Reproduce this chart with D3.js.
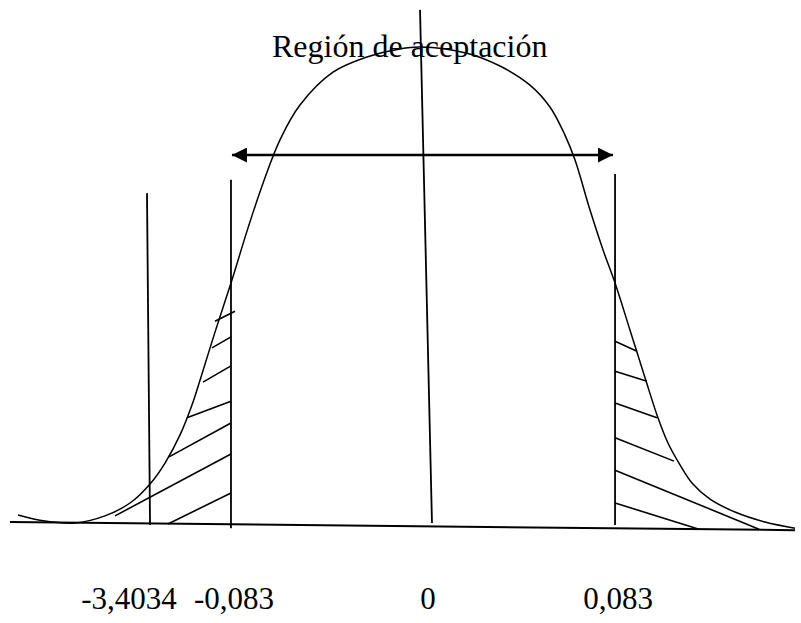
<!DOCTYPE html>
<html><head><meta charset="utf-8">
<script src="https://cdn.jsdelivr.net/npm/d3@7/dist/d3.min.js"></script>
<style>html,body{margin:0;padding:0;background:#fff;overflow:hidden}</style>
</head><body>
<svg id="c" width="801" height="623"></svg>
<script>
// ---- data (z units on x, relative height on y) ----
const titleText = "Región de aceptación";
const tickLabels = ["-3,4034", "-0,083", "0", "0,083"];
const tickZ = [-3.03, -1.96, 0.02, 1.96];

const curveZ = [-4.163,-3.888,-3.582,-3.276,-3.020,-2.816,-2.663,-2.510,-2.388,-2.306,-2.153,-1.990,-1.816,-1.663,-1.490,-1.286,-0.949,-0.602,-0.265,-0.061,0.418,0.755,1.061,1.265,1.418,1.520,1.673,1.806,1.929,2.082,2.235,2.367,2.469,2.592,2.714,2.898,3.153,3.459,3.765];
const curveH = [0.017,0.004,0.000,0.015,0.042,0.082,0.126,0.185,0.248,0.300,0.401,0.504,0.620,0.714,0.805,0.878,0.947,0.979,0.996,1.000,0.987,0.960,0.920,0.874,0.815,0.763,0.658,0.574,0.504,0.405,0.305,0.221,0.168,0.122,0.084,0.050,0.023,0.002,-0.011];

// hatch segments: [z1, h1, z2, h2]
const hatchLeft = [
  [-2.153,0.424,-1.949,0.445],
  [-2.184,0.368,-1.990,0.391],
  [-2.276,0.296,-1.990,0.330],
  [-2.439,0.221,-1.990,0.256],
  [-2.622,0.139,-1.990,0.210],
  [-3.173,0.015,-1.990,0.145],
  [-2.633,-0.002,-1.990,0.063]
];
const hatchRight = [
  [1.929,0.382,2.153,0.361],
  [1.929,0.319,2.255,0.298],
  [1.929,0.252,2.357,0.221],
  [1.929,0.179,2.531,0.130],
  [1.929,0.111,3.398,-0.013],
  [1.929,0.042,2.786,-0.013]
];
// vertical / reference lines: [z1, h1, z2, h2]
const refLines = [
  [-0.061,1.078,0.061,0.000],   // centre
  [-2.847,0.693,-2.816,-0.004], // -3,4034
  [-1.990,0.721,-1.990,-0.011], // left critical
  [1.929,0.733,1.929,-0.004]    // right critical
];
const baseLine = [-4.245,0.002,3.765,-0.015];
const arrowLine = [-1.980,0.773,1.908,0.773];

// ---- scales ----
const x = d3.scaleLinear().domain([-4, 4]).range([34, 818]);
const y = d3.scaleLinear().domain([0, 1]).range([523, 47]);

const svg = d3.select("#c");
const ink = "#000";

function seg(g, s, w) {
  g.append("line")
    .attr("x1", x(s[0])).attr("y1", y(s[1]))
    .attr("x2", x(s[2])).attr("y2", y(s[3]))
    .attr("stroke", ink).attr("stroke-width", w);
}

seg(svg, baseLine, 2);
refLines.forEach(s => seg(svg, s, 1.8));
hatchLeft.concat(hatchRight).forEach(s => seg(svg, s, 1.6));

const pts = curveZ.map((z, i) => [x(z), y(curveH[i])]);
svg.append("path")
  .attr("d", d3.line().curve(d3.curveCatmullRom.alpha(0.5))(pts))
  .attr("fill", "none").attr("stroke", ink).attr("stroke-width", 1.5);

const defs = svg.append("defs");
defs.append("marker").attr("id", "ah")
  .attr("viewBox", "0 0 10 10").attr("refX", 10).attr("refY", 5)
  .attr("markerUnits", "userSpaceOnUse")
  .attr("markerWidth", 16).attr("markerHeight", 15)
  .attr("orient", "auto-start-reverse")
  .append("path").attr("d", "M0,0L10,5L0,10Z").attr("fill", ink);
svg.append("line")
  .attr("x1", x(arrowLine[0])).attr("y1", y(arrowLine[1]))
  .attr("x2", x(arrowLine[2])).attr("y2", y(arrowLine[3]))
  .attr("stroke", ink).attr("stroke-width", 2.5)
  .attr("marker-start", "url(#ah)").attr("marker-end", "url(#ah)");

svg.append("text")
  .attr("x", 272).attr("y", 57)
  .attr("font-family", "'Liberation Serif','Times New Roman',serif")
  .attr("font-size", 32).attr("fill", ink)
  .text(titleText);

svg.selectAll("text.tick").data(tickLabels).enter().append("text")
  .attr("class", "tick")
  .attr("x", (d, i) => x(tickZ[i])).attr("y", 609)
  .attr("text-anchor", "middle")
  .attr("font-family", "'Liberation Serif','Times New Roman',serif")
  .attr("font-size", 31).attr("fill", ink)
  .text(d => d);
</script>
</body></html>
